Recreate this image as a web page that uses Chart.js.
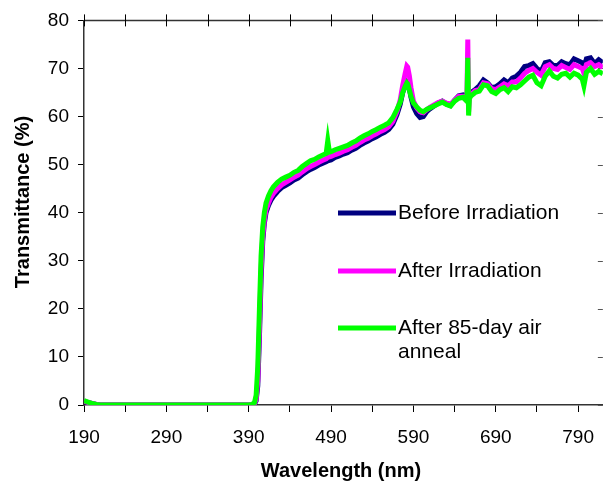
<!DOCTYPE html>
<html>
<head>
<meta charset="utf-8">
<script src="https://cdn.jsdelivr.net/npm/chart.js@4/dist/chart.umd.min.js"></script>
<style>
  html, body { margin: 0; padding: 0; background: #fff; }
  #chart { display: block; }
</style>
</head>
<body>
<canvas id="chart" width="608" height="484"></canvas>
<script>
// wavelengths (nm) shared by the three spectra
const wavelength = [190,195,200,205,210,220,230,240,250,260,270,280,290,300,310,320,330,340,350,360,370,380,390,394,397,399,401,403,405,407,409,411,414,417,420,425,430,435,440,445,450,455,460,465,470,475,480,484,486,488,490,495,500,505,510,515,520,525,530,535,540,545,550,555,560,565,570,574,577,580,582,583,585,587,590,594,598,602,606,610,615,620,625,630,635,640,645,650,653,655,656,657,658,660,665,670,675,680,685,690,695,700,705,710,715,720,725,730,735,740,745,750,755,760,765,770,775,780,785,790,795,797,800,805,810,815,820];

const beforeIrr = [0.7,0.5,0.3,0.1,0.0,0.0,0.0,0.0,0.0,0.0,0.0,0.0,0.0,0.0,0.0,0.0,0.0,0.0,0.0,0.0,0.0,0.0,0.0,0.0,0.2,0.9,4,14,26,34,37.8,40.0,41.5,42.6,43.4,44.4,45.2,45.7,46.2,46.8,47.2,47.9,48.5,49.0,49.4,49.9,50.3,50.6,50.8,50.9,51.0,51.5,51.8,52.2,52.5,53.0,53.4,54.0,54.5,54.9,55.4,55.8,56.3,56.7,57.3,58.4,60.4,62.6,65.0,66.4,67.2,67.0,65.8,64.0,62.0,60.6,59.8,60.0,61.0,61.6,62.2,62.8,63.2,62.6,62.3,63.4,64.3,64.5,64.0,64.8,64.6,64.2,64.6,65.0,65.6,66.4,67.6,67.0,66.0,66.2,66.8,67.6,67.0,68.0,68.4,69.2,70.4,70.6,71.0,70.0,69.4,71.2,71.4,70.6,70.6,71.4,71.0,70.8,72.0,71.6,71.2,70.2,72.0,72.2,71.0,71.8,71.2];

const afterIrr = [0.8,0.5,0.3,0.1,0.0,0.0,0.0,0.0,0.0,0.0,0.0,0.0,0.0,0.0,0.0,0.0,0.0,0.0,0.0,0.0,0.0,0.0,0.0,0.0,0.3,1.2,5,16,28,35,38.5,40.6,42.0,43.2,44.0,45.0,45.8,46.3,46.8,47.4,47.8,48.5,49.1,49.6,50.0,50.5,50.9,51.2,51.5,51.6,51.7,52.1,52.4,52.8,53.1,53.6,54.0,54.6,55.1,55.5,56.0,56.4,56.9,57.3,57.9,59.0,61.0,63.5,66.5,69.0,70.5,70.3,68.5,66.0,63.2,61.8,61.0,60.8,61.4,61.9,62.4,62.9,63.2,62.8,62.6,63.4,64.2,64.2,63.8,64.6,76.0,61.0,64.2,64.6,65.4,65.6,67.0,66.8,65.8,65.6,66.2,66.8,66.4,67.2,67.2,68.0,69.0,69.6,70.0,69.2,68.6,70.4,70.8,70.0,69.8,70.6,70.2,69.8,70.8,70.4,70.0,69.0,70.8,71.2,70.4,70.8,70.2];

const afterAnneal = [0.9,0.6,0.3,0.1,0.0,0.0,0.0,0.0,0.0,0.0,0.0,0.0,0.0,0.0,0.0,0.0,0.0,0.0,0.0,0.0,0.0,0.0,0.0,0.1,0.5,2,8,20,31,37,40,42,43.5,44.6,45.4,46.3,47.0,47.4,47.8,48.4,48.8,49.6,50.2,50.8,51.1,51.6,52.0,52.3,55.0,52.6,52.7,53.1,53.4,53.7,54.0,54.5,54.9,55.5,56.0,56.4,56.9,57.3,57.8,58.2,58.7,59.8,61.5,63.0,65.0,66.3,67.0,66.8,65.6,64.2,62.8,62.0,61.3,61.0,61.5,61.8,62.2,62.6,63.0,62.5,62.2,63.2,63.8,64.0,63.5,64.2,72.2,60.2,63.8,64.3,65.0,65.3,66.6,66.4,65.2,64.8,65.6,66.0,65.2,66.2,66.0,66.6,67.4,68.2,68.6,67.0,66.4,68.4,69.5,68.4,68.0,68.8,69.0,68.2,69.0,68.6,67.8,66.4,69.2,70.0,68.8,69.4,68.9];

const seriesNames = ['Before Irradiation', 'After Irradiation', 'After 85-day air anneal'];
const legendLines = [['Before Irradiation'], ['After Irradiation'], ['After 85-day air', 'anneal']];
const seriesColors = ['#000080', '#ff00ff', '#00ff00'];

const xTickValues = [190,240,290,340,390,440,490,540,590,640,690,740,790];
const xLabelValues = [190,290,390,490,590,690,790];
const yMin = 0, yMax = 80, yStep = 10;

const FONT = '"Liberation Sans", Arial, sans-serif';
const AXIS = '#333';

function pts(vals) {
  return wavelength.map((w, i) => ({ x: w, y: vals[i] }));
}

// top frame line with crossing ticks, and inward ticks on the right edge
const framePlugin = {
  id: 'frame',
  beforeDatasetsDraw(chart) {
    const { ctx, chartArea: a, scales } = chart;
    ctx.save();
    ctx.strokeStyle = AXIS;
    ctx.lineWidth = 1.5;
    ctx.beginPath();
    ctx.moveTo(a.left, a.top);
    ctx.lineTo(a.right, a.top);
    ctx.stroke();
    ctx.lineWidth = 1;
    ctx.strokeStyle = '#000';
    scales.x.ticks.forEach(t => {
      const px = Math.round(scales.x.getPixelForValue(t.value)) + 0.5;
      ctx.beginPath();
      ctx.moveTo(px, a.top - 6);
      ctx.lineTo(px, a.top + 6);
      ctx.stroke();
    });
    ctx.strokeStyle = '#555';
    scales.y.ticks.forEach(t => {
      const py = Math.round(scales.y.getPixelForValue(t.value)) + 0.5;
      ctx.beginPath();
      ctx.moveTo(a.right - 5, py);
      ctx.lineTo(a.right, py);
      ctx.stroke();
    });
    ctx.restore();
  }
};

// axis titles and the legend
const textPlugin = {
  id: 'texts',
  afterDraw(chart) {
    const { ctx } = chart;
    ctx.save();
    ctx.fillStyle = '#000';
    ctx.font = 'bold 20px ' + FONT;
    ctx.textAlign = 'center';
    ctx.textBaseline = 'middle';
    ctx.fillText('Wavelength (nm)', 341, 471);
    ctx.translate(23, 202);
    ctx.rotate(-Math.PI / 2);
    ctx.fillText('Transmittance (%)', 0, 0);
    ctx.restore();

    ctx.save();
    ctx.font = '21px ' + FONT;
    ctx.textAlign = 'left';
    ctx.textBaseline = 'middle';
    const rows = [213, 271, 328];
    chart.data.datasets.forEach((ds, i) => {
      const y = rows[i];
      ctx.strokeStyle = ds.borderColor;
      ctx.lineWidth = 5;
      ctx.beginPath();
      ctx.moveTo(338, y);
      ctx.lineTo(396, y);
      ctx.stroke();
      ctx.fillStyle = '#000';
      legendLines[i].forEach((line, j) => ctx.fillText(line, 398, y + j * 24));
    });
    ctx.restore();
  }
};

new Chart(document.getElementById('chart'), {
  type: 'line',
  data: {
    datasets: seriesNames.map((name, i) => ({
      label: name,
      data: pts([beforeIrr, afterIrr, afterAnneal][i]),
      borderColor: seriesColors[i],
      backgroundColor: seriesColors[i],
      borderWidth: 5,
      pointRadius: 0,
      tension: 0,
      fill: false,
      order: 2 - i,
    })),
  },
  options: {
    responsive: false,
    animation: false,
    devicePixelRatio: 1,
    layout: { padding: { top: 20, right: 0, left: 0, bottom: 0 } },
    plugins: {
      legend: { display: false },
      tooltip: { enabled: false },
    },
    scales: {
      x: {
        type: 'linear',
        min: 190,
        max: 820,
        afterBuildTicks: (s) => { s.ticks = xTickValues.map(v => ({ value: v })); },
        afterFit: (s) => { s.height = 79; },
        ticks: {
          autoSkip: false,
          maxRotation: 0,
          color: '#000',
          padding: 14,
          font: { family: FONT, size: 19 },
          callback: (v) => (xLabelValues.includes(v) ? String(v) : ''),
        },
        grid: { drawOnChartArea: false, drawTicks: true, tickLength: 7, color: '#000' },
        border: { color: AXIS, width: 1.5 },
      },
      y: {
        min: yMin,
        max: yMax,
        afterFit: (s) => { s.width = 84; },
        ticks: {
          stepSize: yStep,
          color: '#000',
          padding: 9,
          font: { family: FONT, size: 19 },
        },
        grid: { drawOnChartArea: false, drawTicks: true, tickLength: 6, color: '#000' },
        border: { color: AXIS, width: 1.5 },
      },
    },
  },
  plugins: [framePlugin, textPlugin],
});
</script>
</body>
</html>
